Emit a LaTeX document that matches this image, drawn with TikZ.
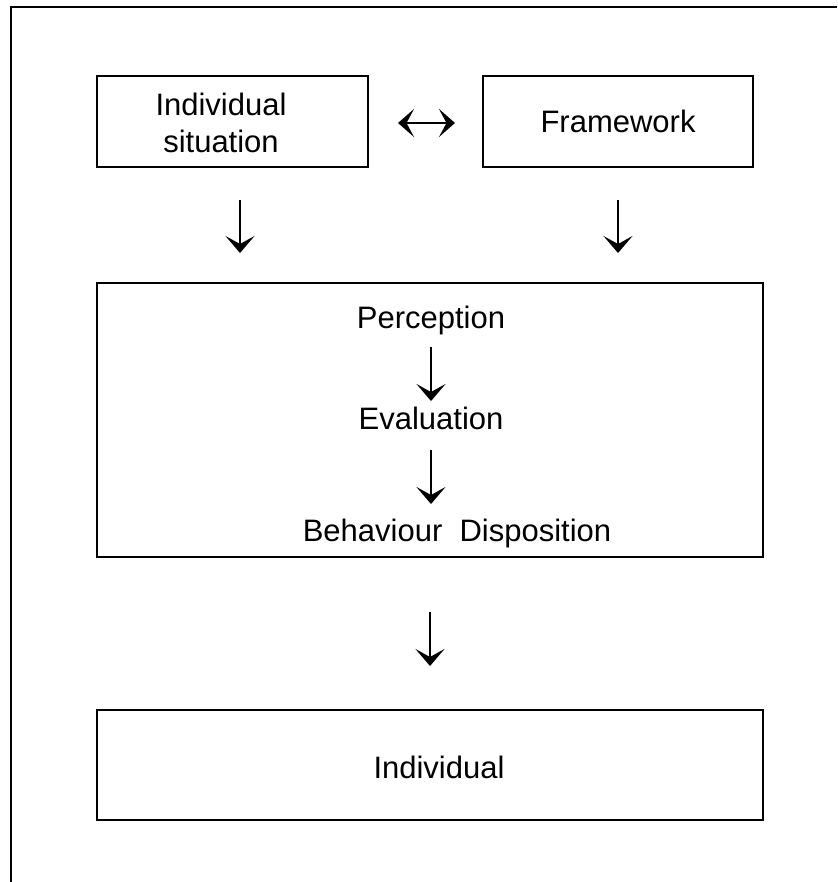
\documentclass[tikz,border=0pt]{standalone}
\usepackage{fontspec}
\setmainfont{Liberation Sans}
\usetikzlibrary{arrows.meta}
\begin{document}
\begin{tikzpicture}[x=1pt,y=-1pt,
  box/.style={draw, line width=1.6pt, inner sep=0pt},
  lbl/.style={font=\fontsize{31}{37}\selectfont, anchor=base, inner sep=0pt, align=center},
  arr/.style={line width=2.6pt, -{Stealth[length=17pt,width=29pt,inset=8pt]}},
  darr/.style={line width=2.6pt, {Stealth[length=16pt,width=28pt,inset=7.5pt]}-{Stealth[length=16pt,width=28pt,inset=7.5pt]}}
]
\useasboundingbox (0,0) rectangle (837,882);
% outer frame (top and left edges)
\coordinate (fbl) at (11,882);
\coordinate (ftl) at (11,7);
\coordinate (ftr) at (837,7);
\draw[line width=1.6pt] (fbl) -- (ftl) -- (ftr);

% boxes
\node[box, minimum width=271pt, minimum height=91pt] (sit) at (232.5,121.5) {};
\node[box, minimum width=270pt, minimum height=91pt] (frame) at (618,121.5) {};
\node[box, minimum width=666pt, minimum height=274pt] (proc) at (430,420) {};
\node[box, minimum width=666pt, minimum height=110pt] (indiv) at (430,765) {};

% texts
\node[lbl] (sittxt) at (221,153) {Individual\\situation};
\node[lbl] (fwtxt) at (618,133) {Framework};
\node[lbl] (perc) at (431,328) {Perception};
\node[lbl] (eval) at (431,429) {Evaluation};
\node[lbl] (beh) at (457,541) {Behaviour\ \ Disposition};
\node[lbl] (indtxt) at (439,778) {Individual};

% arrows
\coordinate (h1) at (398,123);
\coordinate (h2) at (455,123);
\draw[darr] (h1) -- (h2);

\coordinate (a1s) at (240,200);
\coordinate (a1e) at (240,253);
\draw[arr] (a1s) -- (a1e);

\coordinate (a2s) at (618,200);
\coordinate (a2e) at (618,253);
\draw[arr] (a2s) -- (a2e);

\coordinate (a3s) at (431,347);
\coordinate (a3e) at (431,401);
\draw[arr] (a3s) -- (a3e);

\coordinate (a4s) at (431,450);
\coordinate (a4e) at (431,504);
\draw[arr] (a4s) -- (a4e);

\coordinate (a5s) at (430,612);
\coordinate (a5e) at (430,666);
\draw[arr] (a5s) -- (a5e);
\end{tikzpicture}
\end{document}
